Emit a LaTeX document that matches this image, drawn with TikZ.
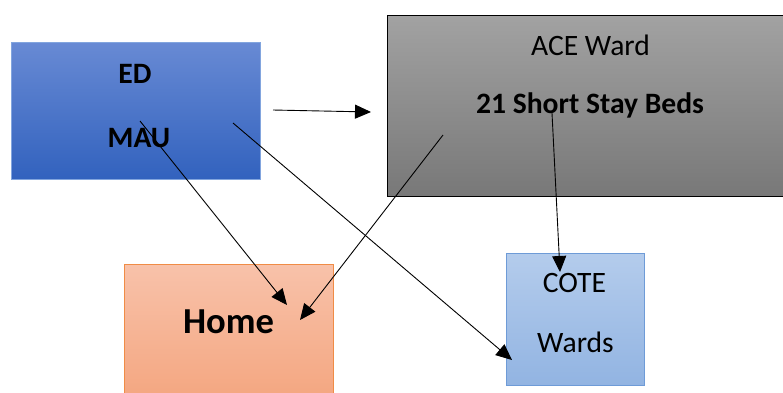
\documentclass[tikz,border=0pt]{standalone}
\usepackage{fontspec}
\setmainfont{Carlito}
\usetikzlibrary{arrows.meta}
\definecolor{edTop}{RGB}{104,138,212}
\definecolor{edBot}{RGB}{50,98,190}
\definecolor{edLine}{RGB}{130,165,222}
\definecolor{aceTop}{RGB}{162,162,162}
\definecolor{aceBot}{RGB}{120,120,120}
\definecolor{homeTop}{RGB}{248,194,170}
\definecolor{homeBot}{RGB}{244,166,128}
\definecolor{homeLine}{RGB}{240,140,70}
\definecolor{coteTop}{RGB}{180,204,236}
\definecolor{coteBot}{RGB}{146,180,226}
\definecolor{coteLine}{RGB}{110,155,215}
\tikzset{
  boxstyle/.style={line width=0.8pt},
  lbl/.style={anchor=base, inner sep=0pt, font=\fontsize{29.6}{32}\selectfont},
  lblb/.style={lbl, font=\fontsize{29.6}{32}\selectfont\bfseries},
  flow/.style={line width=0.9pt, -{Triangle[length=16pt,width=14pt]}},
}
\begin{document}
\begin{tikzpicture}[x=1pt,y=-1pt]
\useasboundingbox (0,0) rectangle (783,392);
% boxes
\path[boxstyle, draw=edLine, top color=edTop, bottom color=edBot] (11,42) rectangle (260,179);
\node[inner sep=0pt, minimum width=249pt, minimum height=137pt] (ed) at (135.5,110.5) {};
\path[boxstyle, draw=black, top color=aceTop, bottom color=aceBot] (387,15) rectangle (800,196);
\node[inner sep=0pt, minimum width=413pt, minimum height=181pt] (ace) at (593.5,105.5) {};
\path[boxstyle, draw=homeLine, top color=homeTop, bottom color=homeBot] (124,264) rectangle (333,400);
\node[inner sep=0pt, minimum width=209pt, minimum height=136pt] (home) at (228.5,332) {};
\path[boxstyle, draw=coteLine, top color=coteTop, bottom color=coteBot] (506,253) rectangle (644,385);
\node[inner sep=0pt, minimum width=138pt, minimum height=132pt] (cote) at (575,319) {};
% texts
\node[lblb] (tED) at (135,83) {ED};
\node[lblb] (tMAU) at (139,147) {MAU};
\node[lbl] (tACE) at (590.5,55) {ACE Ward};
\node[lblb] (tBeds) at (590,113) {21 Short Stay Beds};
\node[lblb, font=\fontsize{36.6}{40}\selectfont\bfseries] (tHome) at (228.5,333) {Home};
\node[lbl] (tCOTE) at (574.5,292) {COTE};
\node[lbl] (tWards) at (575.5,352) {Wards};
% connector endpoints
\coordinate (a1s) at (273,110);
\coordinate (a1e) at (371,112);
\coordinate (a2s) at (140,121);
\coordinate (a2e) at (287,305);
\coordinate (a3s) at (233,123);
\coordinate (a3e) at (512,360);
\coordinate (a4s) at (443,135);
\coordinate (a4e) at (300,320);
\coordinate (a5s) at (552,113);
\coordinate (a5e) at (560,272);
% connectors
\draw[flow] (a1s) -- (a1e);
\draw[flow] (a2s) -- (a2e);
\draw[flow] (a3s) -- (a3e);
\draw[flow] (a4s) -- (a4e);
\draw[flow] (a5s) -- (a5e);
\end{tikzpicture}
\end{document}
